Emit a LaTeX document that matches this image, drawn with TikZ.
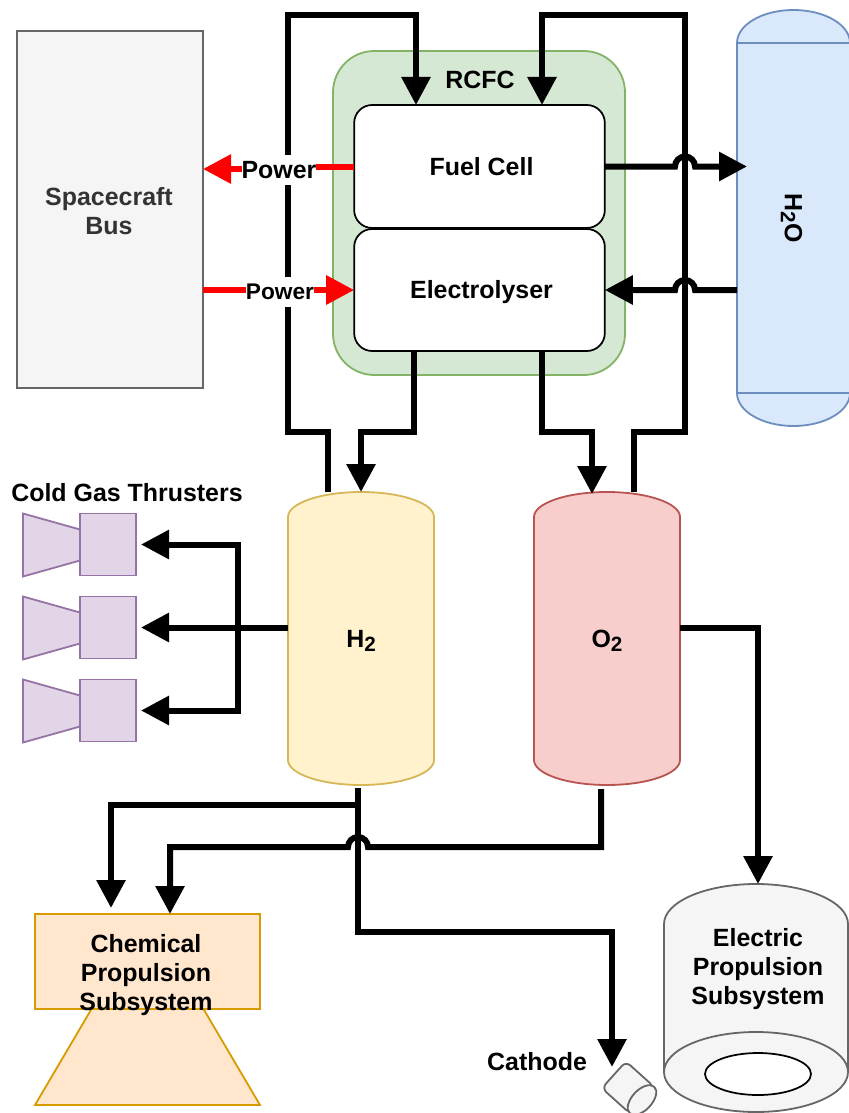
\documentclass[tikz,border=0pt]{standalone}
\usepackage{fontspec}
\setmainfont{Liberation Sans}
\usetikzlibrary{arrows.meta, positioning, calc, shapes.geometric, backgrounds}
\definecolor{busfill}{HTML}{F5F5F5}
\definecolor{busline}{HTML}{666666}
\definecolor{greenfill}{HTML}{D5E8D4}
\definecolor{greenline}{HTML}{82B366}
\definecolor{bluefill}{HTML}{DAE8FC}
\definecolor{blueline}{HTML}{6C8EBF}
\definecolor{yellowfill}{HTML}{FFF2CC}
\definecolor{yellowline}{HTML}{D6B656}
\definecolor{redfill}{HTML}{F8CECC}
\definecolor{redline}{HTML}{B85450}
\definecolor{purplefill}{HTML}{E1D5E7}
\definecolor{purpleline}{HTML}{9673A6}
\definecolor{orangefill}{HTML}{FFE6CC}
\definecolor{orangeline}{HTML}{D79B00}
\tikzset{>={Triangle[length=21pt,width=21pt]}, line join=miter,
  every node/.style={font=\fontsize{18.7}{21.75}\selectfont\bfseries, align=center, inner sep=0pt, outer sep=0pt},
  every label/.style={font=\fontsize{18.7}{21.75}\selectfont\bfseries, align=center},
  box/.style={draw=#1line, fill=#1fill, line width=1.35pt},
  cell/.style={draw=black, fill=white, line width=1.3pt, rounded corners=13.5pt, minimum width=188pt},
  tank/.style={minimum width=109.5pt, minimum height=219.75pt},
  thruster/.style={box=purple, minimum width=42pt, minimum height=46.5pt},
  pipe/.style={->, line width=4.5pt},
  power/.style={->, line width=4.5pt, draw=red, color=red},
  powerlabel/.style={fill=white, minimum height=22.5pt}}
\newcommand{\hopright}{arc[start angle=180, end angle=360, radius=10]}
\newcommand{\hopleft}{arc[start angle=0, end angle=-180, radius=10]}
\newcommand{\lowtwo}{\smash{\raisebox{-0.3ex}{\fontsize{15.5}{15.5}\selectfont 2}}}
\newcommand{\tankbody}[4]{\draw[#4] ($(#1.north west)+(0,#3)$) arc[start angle=180, end angle=360, x radius=#2, y radius=#3]
  -- ($(#1.south east)+(0,-#3)$) arc[start angle=0, end angle=180, x radius=#2, y radius=#3] -- cycle;}

\begin{document}
\begin{tikzpicture}[x=0.75pt, y=-0.75pt]
  \useasboundingbox (0,0) rectangle (849,1113);
  \node[box=bus, minimum width=139.5pt, minimum height=267.75pt,
    label={[text=black!80, xshift=-0.75pt, yshift=-1.5pt]center:Spacecraft\\Bus}] (bus) at (110,209.5) {};
  \node[box=green, rounded corners=31pt, minimum width=219pt, minimum height=243pt] (rcfc) at (479,213) {};
  \node (rcfclabel) at (480,80) {RCFC};
  \node[cell, minimum height=92.25pt, label={[xshift=1.5pt]center:Fuel Cell}] (fuelcell) at (479.5,166.5) {};
  \node[cell, minimum height=91.5pt, below=0.75pt of fuelcell, label={[xshift=1.5pt, yshift=-1.5pt]center:Electrolyser}] (electrolyser) {};
  \node[minimum width=84.75pt, minimum height=312pt] (water) at (793.5,218) {\rotatebox{-90}{H\lowtwo O}};
  \node[tank] (h2) at (361,638.5) {H\lowtwo};
  \node[tank, right=75pt of h2] (o2) {O\lowtwo};
  \node[thruster] (thrusterA) at (108,544.5) {};
  \node[thruster, below=15.75pt of thrusterA] (thrusterB) {};
  \node[thruster, below=15.75pt of thrusterB] (thrusterC) {};
  \node (coldgas) at (127,493) {Cold Gas Thrusters};
  \node[minimum width=138pt, minimum height=171pt] (ep) at (756,998) {};
  \node[draw=black, fill=white, line width=1.3pt, ellipse, minimum width=79.5pt, minimum height=31.5pt] (epexit) at (758,1074) {};
  \node (eplabel) at (758,969) {Electric\\Propulsion\\Subsystem};
  \node[box=orange, minimum width=168.75pt, minimum height=71.25pt] (chem) at (147.5,961.5) {};
  \node (chemlabel) at (146,975) {Chemical\\Propulsion\\Subsystem};
  \node (cathodelabel) at (537,1062) {Cathode};
  \node[box=bus, rounded corners=4.5pt, rotate=-42, minimum width=28.5pt, minimum height=27pt] (cathode) at (628,1087.5) {};
  \node[box=bus, ellipse, rotate=47, minimum width=27pt, minimum height=15pt] (cathodeend) at (642,1100) {};
  \coordinate (cathodein) at (612,1067);

  \begin{scope}[on background layer]
    \tankbody{water}{56.5}{33}{box=blue}
    \draw[box=blue] ($(water.north west)+(0,33)$) -- ($(water.north east)+(0,33)$)
    ($(water.south west)+(0,-33)$) -- ($(water.south east)+(0,-33)$);
    \tankbody{h2}{73}{25}{box=yellow}
    \tankbody{o2}{73}{25}{box=red}
    \tankbody{ep}{92}{40}{box=bus}
    \draw[box=bus] ($(ep.south west)+(0,-40)$) arc[start angle=180, end angle=360, x radius=92, y radius=40];
    \draw[box=purple] (thrusterA.west) ++(0,-15) -- ++(-57,-16) -- ++(0,63) -- ++(57,-16) -- cycle;
    \draw[box=purple] (thrusterB.west) ++(0,-15) -- ++(-57,-16) -- ++(0,63) -- ++(57,-16) -- cycle;
    \draw[box=purple] (thrusterC.west) ++(0,-15) -- ++(-57,-16) -- ++(0,63) -- ++(57,-16) -- cycle;
    \draw[box=orange] (chem.south) ++(-56,0) -- ++(-56.5,96) -- ++(225,0) -- ++(-56.5,-96) -- cycle;
  \end{scope}

  % gas lines round the fuel cell
  \draw[pipe] (328,0 |- h2.north) -- (328,432) -- (288,432) -- (288,15) -- (416,15) -- (416,0 |- fuelcell.north);
  \draw[pipe] (634,0 |- o2.north) -- (634,432) -- (685,432) -- (685,15) -- (542,15) -- (542,0 |- fuelcell.north);
  \draw[pipe] (414,0 |- electrolyser.south) -- (414,432) -- (361,432) -- (h2.north);
  \draw[pipe] (542,0 |- electrolyser.south) -- (542,432) -- (592,432) -- (592,494);
  % water
  \draw[pipe] (fuelcell.east) -- (675,166.5) \hopright -- (747,166.5);
  \draw[pipe] (water.west |- electrolyser.east) -- (695,290) \hopleft -- (electrolyser.east);
  % power
  \draw[power] (fuelcell.west |- 0,167) -- (279,167) -- (279,169) -- (bus.east |- 0,169);
  \draw[power] (bus.east |- electrolyser.west) -- (electrolyser.west);
  \node[powerlabel] (powerout) at (279,170) {Power};
  \node[powerlabel, font=\fontsize{17}{20}\selectfont\bfseries] (powerin) at (280,291.5) {Power};
  % cold gas
  \draw[pipe, shorten >=3.75pt] (h2.west |- thrusterB.east) -- (thrusterB.east);
  \draw[pipe, shorten >=3.75pt] (238,0 |- thrusterB.east) |- (thrusterA.east);
  \draw[pipe, shorten >=3.75pt] (238,0 |- thrusterB.east) |- (thrusterC.east);
  % propellant
  \draw[pipe] (358,788) -- (358,932) -- (612,932) -- (cathodein);
  \draw[pipe] (358,805) -- (111,805) -- (111,908);
  \draw[pipe] (601,789) -- (601,847) -- (368,847) \hopleft -- (170,847) -- (170,0 |- chem.north);
  \draw[pipe] (o2.east |- thrusterB.east) -- (758,0 |- thrusterB.east) -- (758,0 |- ep.north);
\end{tikzpicture}
\end{document}
